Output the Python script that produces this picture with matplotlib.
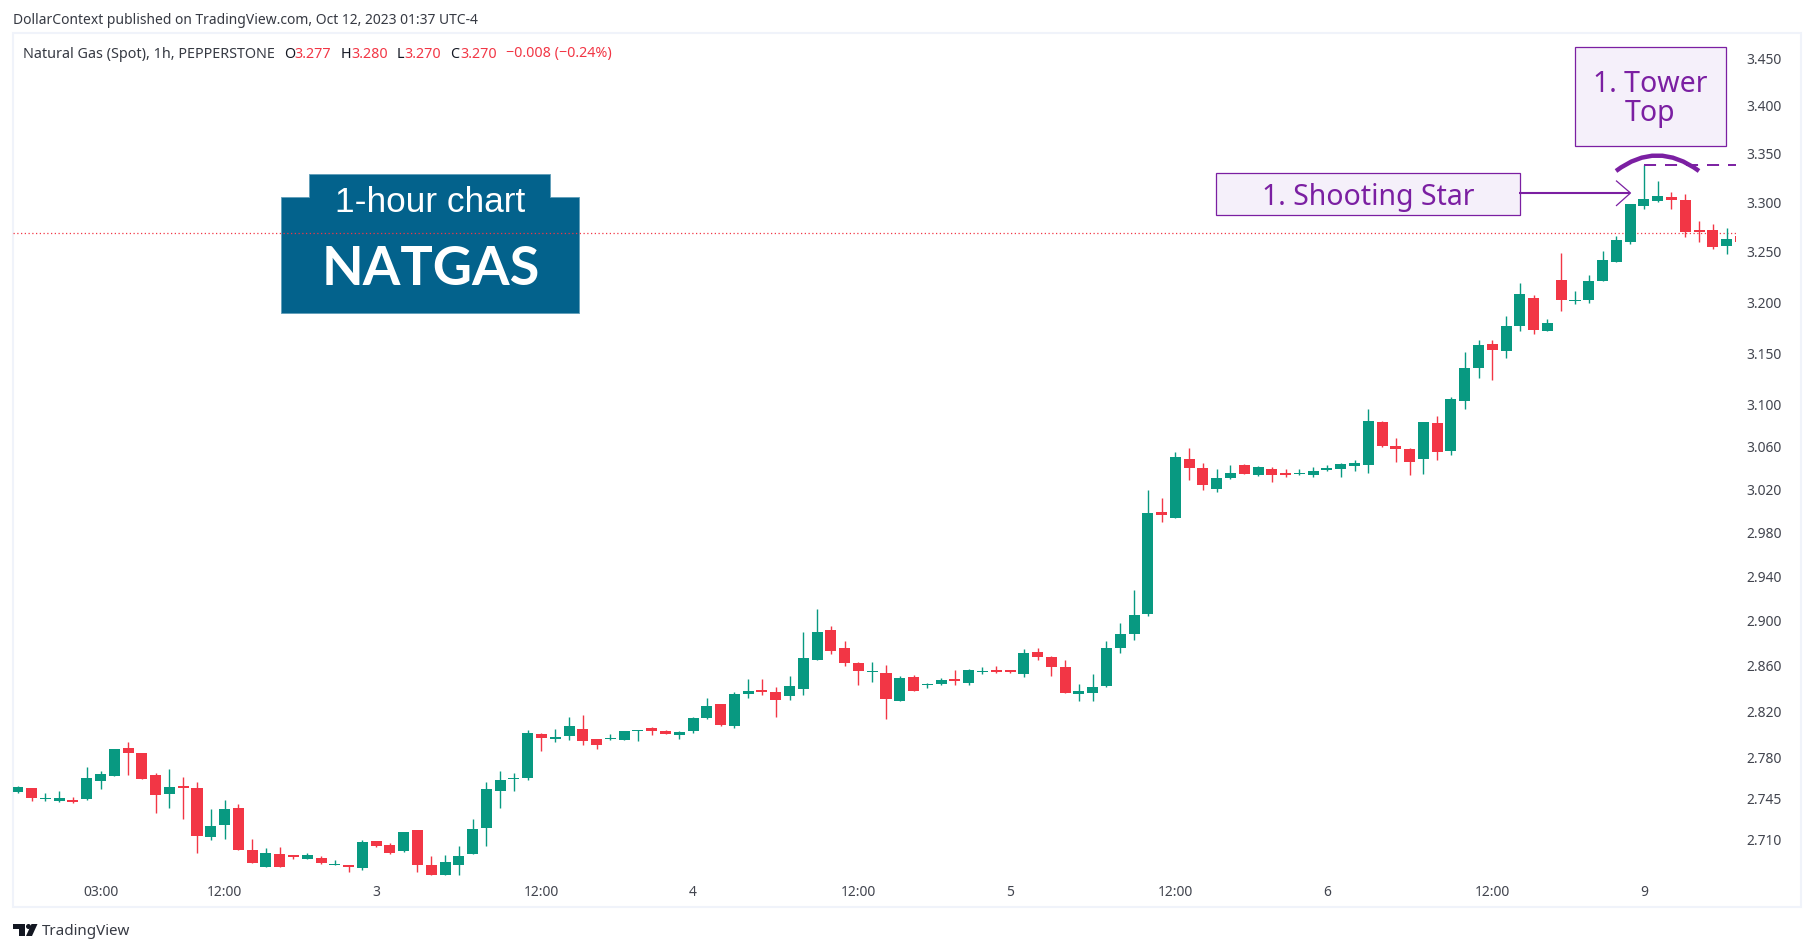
import matplotlib
matplotlib.use("Agg")
import matplotlib.pyplot as plt
from matplotlib.patches import Rectangle, Polygon, PathPatch, Circle
from matplotlib.path import Path
from matplotlib.ticker import NullLocator

# hourly candles
opens = [2.7512, 2.7546, 2.7452, 2.7435, 2.7443, 2.7452, 2.7606, 2.7648, 2.7888, 2.7845,
         2.7657, 2.7494, 2.7563, 2.7546, 2.7135, 2.7229, 2.7375, 2.7024, 2.6879, 2.6990,
         2.6981, 2.6947, 2.6956, 2.6896, 2.6896, 2.6870, 2.7101, 2.7067, 2.7016, 2.7187,
         2.6896, 2.6819, 2.6896, 2.6990, 2.7204, 2.7520, 2.7623, 2.7631, 2.8007, 2.7965,
         2.7990, 2.8050, 2.7965, 2.7966, 2.7957, 2.8037, 2.8064, 2.8037, 2.8001, 2.8037,
         2.8152, 2.8268, 2.8081, 2.8357, 2.8392, 2.8374, 2.8339, 2.8401, 2.8659, 2.8925,
         2.8765, 2.8632, 2.8552, 2.8543, 2.8295, 2.8508, 2.8437, 2.8445, 2.8490, 2.8454,
         2.8552, 2.8570, 2.8570, 2.8534, 2.8730, 2.8685, 2.8596, 2.8357, 2.8366, 2.8428,
         2.8765, 2.8889, 2.9067, 3.0000, 2.9944, 3.0496, 3.0411, 3.0213, 3.0317, 3.0439,
         3.0345, 3.0402, 3.0364, 3.0354, 3.0345, 3.0392, 3.0402, 3.0430, 3.0439, 3.0846,
         3.0618, 3.0590, 3.0496, 3.0837, 3.0571, 3.1046, 3.1365, 3.1599, 3.1530, 3.1775,
         3.2050, 3.1726, 3.2230, 3.2020, 3.2030, 3.2220, 3.2410, 3.2610, 3.2976, 3.3026,
         3.3067, 3.3037, 3.2730, 3.2730, 3.2570, 3.2670]
highs = [2.7563, 2.7546, 2.7503, 2.7520, 2.7469, 2.7725, 2.7691, 2.7879, 2.7939, 2.7845,
         2.7674, 2.7708, 2.7640, 2.7597, 2.7366, 2.7443, 2.7409, 2.7118, 2.7041, 2.7050,
         2.6981, 2.6999, 2.6973, 2.6939, 2.6896, 2.7110, 2.7101, 2.7084, 2.7170, 2.7187,
         2.6973, 2.6981, 2.7058, 2.7281, 2.7597, 2.7691, 2.7674, 2.8042, 2.8016, 2.8050,
         2.8153, 2.8178, 2.7965, 2.8010, 2.8037, 2.8046, 2.8073, 2.8046, 2.8037, 2.8161,
         2.8321, 2.8268, 2.8374, 2.8490, 2.8490, 2.8419, 2.8517, 2.8907, 2.9112, 2.8961,
         2.8827, 2.8641, 2.8641, 2.8614, 2.8517, 2.8525, 2.8454, 2.8499, 2.8570, 2.8579,
         2.8596, 2.8605, 2.8570, 2.8756, 2.8765, 2.8694, 2.8659, 2.8445, 2.8534, 2.8827,
         2.8987, 2.9280, 3.0204, 3.0130, 3.0562, 3.0599, 3.0458, 3.0402, 3.0439, 3.0449,
         3.0430, 3.0420, 3.0402, 3.0402, 3.0420, 3.0439, 3.0458, 3.0486, 3.0970, 3.0856,
         3.0694, 3.0599, 3.0846, 3.0903, 3.1085, 3.1521, 3.1638, 3.1638, 3.1873, 3.2200,
         3.2080, 3.1844, 3.2499, 3.2120, 3.2280, 3.2520, 3.2670, 3.3000, 3.3394, 3.3230,
         3.3120, 3.3100, 3.2820, 3.2790, 3.2750, 3.2670]
lows = [2.7503, 2.7435, 2.7435, 2.7426, 2.7418, 2.7443, 2.7537, 2.7648, 2.7657, 2.7623,
        2.7332, 2.7375, 2.7281, 2.6999, 2.7110, 2.7118, 2.7024, 2.6913, 2.6879, 2.6879,
        2.6947, 2.6947, 2.6905, 2.6896, 2.6836, 2.6853, 2.7050, 2.6990, 2.7007, 2.6836,
        2.6819, 2.6819, 2.6819, 2.6990, 2.7058, 2.7375, 2.7520, 2.7614, 2.7862, 2.7939,
        2.7956, 2.7913, 2.7879, 2.7957, 2.7957, 2.7948, 2.8001, 2.8010, 2.7966, 2.8019,
        2.8144, 2.8081, 2.8064, 2.8321, 2.8348, 2.8161, 2.8303, 2.8348, 2.8659, 2.8712,
        2.8605, 2.8437, 2.8463, 2.8144, 2.8295, 2.8383, 2.8410, 2.8437, 2.8437, 2.8437,
        2.8534, 2.8543, 2.8543, 2.8508, 2.8659, 2.8517, 2.8366, 2.8295, 2.8295, 2.8419,
        2.8721, 2.8836, 2.9049, 2.9907, 2.9944, 3.0298, 3.0204, 3.0186, 3.0307, 3.0354,
        3.0336, 3.0279, 3.0326, 3.0345, 3.0326, 3.0383, 3.0326, 3.0383, 3.0364, 3.0609,
        3.0467, 3.0345, 3.0354, 3.0486, 3.0532, 3.0970, 3.1269, 3.1250, 3.1462, 3.1726,
        3.1697, 3.1726, 3.1922, 3.1990, 3.2000, 3.2220, 3.2410, 3.2590, 3.2945, 3.3016,
        3.2945, 3.2660, 3.2610, 3.2540, 3.2490, 3.2610]
closes = [2.7554, 2.7460, 2.7460, 2.7460, 2.7426, 2.7631, 2.7665, 2.7879, 2.7845, 2.7623,
          2.7486, 2.7554, 2.7546, 2.7144, 2.7221, 2.7366, 2.7024, 2.6913, 2.6999, 2.6879,
          2.6964, 2.6981, 2.6913, 2.6905, 2.6879, 2.7093, 2.7058, 2.6999, 2.7170, 2.6896,
          2.6819, 2.6922, 2.6973, 2.7195, 2.7537, 2.7614, 2.7631, 2.8016, 2.7973, 2.7982,
          2.8076, 2.7948, 2.7913, 2.7975, 2.8037, 2.8046, 2.8037, 2.8010, 2.8028, 2.8152,
          2.8250, 2.8090, 2.8357, 2.8383, 2.8374, 2.8303, 2.8428, 2.8676, 2.8907, 2.8739,
          2.8632, 2.8561, 2.8561, 2.8312, 2.8499, 2.8383, 2.8445, 2.8481, 2.8472, 2.8570,
          2.8561, 2.8552, 2.8552, 2.8721, 2.8685, 2.8596, 2.8366, 2.8383, 2.8419, 2.8765,
          2.8889, 2.9058, 2.9990, 2.9972, 3.0515, 3.0411, 3.0251, 3.0317, 3.0364, 3.0354,
          3.0420, 3.0345, 3.0345, 3.0364, 3.0383, 3.0411, 3.0449, 3.0458, 3.0856, 3.0618,
          3.0590, 3.0467, 3.0846, 3.0561, 3.1066, 3.1365, 3.1589, 3.1540, 3.1775, 3.2090,
          3.1736, 3.1804, 3.2030, 3.2030, 3.2220, 3.2430, 3.2630, 3.2996, 3.3047, 3.3077,
          3.3037, 3.2710, 3.2710, 3.2560, 3.2640, 3.2610]

price_ticks = [2.710, 2.745, 2.780, 2.820, 2.860, 2.900, 2.940, 2.980, 3.020, 3.060,
               3.100, 3.150, 3.200, 3.250, 3.300, 3.350, 3.400, 3.450]
time_ticks = [6, 15, 26, 38, 49, 61, 72, 84, 95, 107, 118]
time_labels = ["03:00", "12:00", "3", "12:00", "4", "12:00", "5", "12:00", "6", "12:00", "9"]
last_price = 3.270
tower_level = 3.340

GREEN = "#089981"
RED = "#f23645"
PURPLE = "#7b1fa2"
LILAC = "#f5f0fa"
BADGE = "#03628c"
GREY = "#131722"
FONT = "Noto Sans"

W, H = 1815, 953

fig = plt.figure(figsize=(W / 100, H / 100), dpi=100, facecolor="white")


def pixel_axes(z):
    a = fig.add_axes([0, 0, 1, 1], xlim=(0, W), ylim=(H, 0), zorder=z)
    a.axis("off")
    return a


# --- background: frame, badge, header --------------------------------------
back = pixel_axes(0)
back.add_patch(Rectangle((13, 34), 1788, 874, fc="white", ec="#f0f3fa", lw=1.5))
back.add_patch(Polygon([(281, 198), (309.5, 198), (309.5, 175), (550, 175), (550, 198),
                        (579.5, 198), (579.5, 314), (281, 314)],
                       fc=BADGE, ec="#5f9db8", lw=0.6))
back.text(430.5, 203, "1-hour chart", color="white", family="Liberation Sans", size=25.4,
          ha="center", va="center")
back.text(430.5, 270, "NATGAS", color="white", family="Lato", weight="bold", size=39,
          ha="center", va="center")

back.text(13.5, 21, "DollarContext published on TradingView.com, Oct 12, 2023 01:37 UTC-4",
          color=GREY, family=FONT, size=10, va="center", alpha=0.85)
back.text(23, 54, "Natural Gas (Spot), 1h, PEPPERSTONE", color=GREY, family=FONT, size=10.35,
          va="center", alpha=0.85)
legend_bits = [(284.5, "O", GREY), (294.7, "3.277", RED), (341, "H", GREY), (351, "3.280", RED),
               (396.7, "L", GREY), (404, "3.270", RED), (450, "C", GREY), (460, "3.270", RED),
               (506, "\u22120.008 (\u22120.24%)", RED)]
for x, s, c in legend_bits:
    back.text(x, 54, s, color=c, family=FONT, size=10.3, va="center")

# tradingview mark
back.add_patch(Polygon([(13, 925), (25, 925), (25, 937), (19, 937), (19, 930), (13, 930)],
                       fc=GREY, ec="none"))
back.add_patch(Circle((28.5, 927.5), 2.5, fc=GREY, ec="none"))
back.add_patch(Polygon([(31.5, 925), (37.5, 925), (32, 937), (26, 937)], fc=GREY, ec="none"))
back.text(42, 932, "TradingView", color=GREY, family=FONT, size=10.9, va="center", alpha=0.85)

# --- candles ---------------------------------------------------------------
left, right, top, bottom = 13.4, 1736.5, 34, 880
ax = fig.add_axes([left / W, 1 - bottom / H, (right - left) / W, (bottom - top) / H], zorder=1)
ax.patch.set_visible(False)
for s in ax.spines.values():
    s.set_visible(False)

ax.set_yscale("log")
for i in range(len(opens)):
    col = GREEN if closes[i] >= opens[i] else RED
    ax.vlines(i, lows[i], highs[i], color=col, lw=1.0)
    ax.bar(i, abs(closes[i] - opens[i]), bottom=min(opens[i], closes[i]), width=0.8,
           color=col, lw=0)

ax.axhline(last_price, color=RED, lw=0.9, ls=(0, (1, 2)), zorder=0.5)

ax.set_xlim(-0.323, 124.72)
ax.set_ylim(2.6782, 3.4786)
ax.yaxis.tick_right()
ax.set_yticks(price_ticks)
ax.set_yticklabels(["%.3f" % p for p in price_ticks])
ax.yaxis.set_minor_locator(NullLocator())
ax.set_xticks(time_ticks)
ax.set_xticklabels(time_labels)
ax.tick_params(axis="y", length=0, pad=7.2, labelsize=10, labelcolor="#42454f")
ax.tick_params(axis="x", length=0, pad=3.5, labelsize=10, labelcolor="#42454f")
for lab in ax.get_xticklabels() + ax.get_yticklabels():
    lab.set_family(FONT)
for lab in ax.get_yticklabels():
    lab.set_verticalalignment("center")
ax.get_xticklabels()[-1].set_weight("bold")

# --- annotations -----------------------------------------------------------
over = pixel_axes(2)
over.add_patch(Rectangle((1216.5, 173.5), 304, 42, fc=LILAC, ec=PURPLE, lw=0.9))
over.text(1368, 197, "1. Shooting Star", color=PURPLE, family=FONT, size=20.5,
          ha="center", va="center")
over.add_patch(Rectangle((1575, 48), 151, 99, fc=LILAC, ec=PURPLE, lw=0.9))
over.text(1650, 84, "1. Tower", color=PURPLE, family=FONT, size=20.5, ha="center", va="center")
over.text(1650, 114, "Top", color=PURPLE, family=FONT, size=20.5, ha="center", va="center")

over.plot([1519, 1630], [194, 194], color=PURPLE, lw=1.5, solid_capstyle="butt")
over.plot([1616.5, 1630.5, 1616.5], [182, 194, 206.5], color=PURPLE, lw=0.9)
over.add_patch(PathPatch(Path([(1616, 172), (1657, 141), (1699, 172)],
                              [Path.MOVETO, Path.CURVE3, Path.CURVE3]),
                         fc="none", ec=PURPLE, lw=3.2))
# dashed level sits on the shooting star high
ax.hlines(tower_level, 118, 124.72, color=PURPLE, lw=1.4, ls=(0, (6.2, 4.6)), zorder=3)

fig.savefig("out.png", dpi=100, facecolor="white")
